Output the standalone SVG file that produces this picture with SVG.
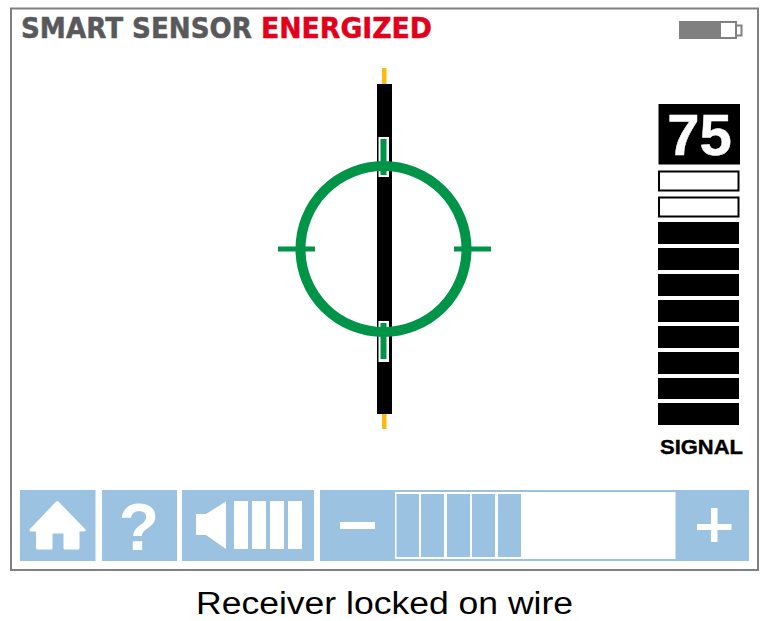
<svg xmlns="http://www.w3.org/2000/svg" width="767" height="621" viewBox="0 0 767 621">
<style>
.btn{fill:#9bc2e0}
.w{fill:#fff}
.g{fill:#009448}
.sig{fill:#000}
.sige{fill:#fff;stroke:#000;stroke-width:2}
.title{font-family:"DejaVu Sans","Open Sans",sans-serif;font-weight:700;font-size:28px;stroke-width:.5px}
</style>
<rect width="767" height="621" fill="#fff"/>
<rect id="frame" x="11" y="8.500" width="747" height="561.500" fill="#fff" stroke="#808080" stroke-width="2"/>
<g id="title"><text class="title" x="21" y="38" fill="#58595b" stroke="#58595b" textLength="231" lengthAdjust="spacingAndGlyphs">SMART SENSOR</text><text class="title" x="261" y="38" fill="#e2001a" stroke="#e2001a" textLength="171" lengthAdjust="spacingAndGlyphs">ENERGIZED</text></g>
<g id="battery"><rect x="735" y="25.500" width="6.500" height="10" fill="#fff" stroke="#808080" stroke-width="2"/><rect x="680" y="22" width="56" height="16" fill="#fff" stroke="#808080" stroke-width="2"/><rect x="679" y="21" width="42" height="18" fill="#808080"/></g>
<g id="wire"><rect x="382" y="68" width="4.500" height="361" fill="#fdb913"/><rect x="377" y="84" width="15" height="330" fill="#000"/></g>
<g id="target">
<rect class="w" x="378.500" y="137" width="10.500" height="40"/><rect class="w" x="378.500" y="321" width="10.500" height="41"/>
<circle cx="383.500" cy="249" r="83" fill="none" stroke="#009448" stroke-width="10"/>
<rect class="g" x="380.500" y="139" width="6" height="36"/><rect class="g" x="380.500" y="323" width="6" height="36"/>
<rect class="g" x="278" y="246.500" width="37" height="5"/><rect class="g" x="454" y="246.500" width="37" height="5"/></g>
<g id="signal">
<rect x="658.500" y="104" width="81.500" height="60.500" fill="#000"/>
<text x="699.500" y="155" text-anchor="middle" fill="#fff" font-family="Liberation Sans,sans-serif" font-weight="700" font-size="58" stroke="#fff" stroke-width=".5">75</text>
<rect class="sige" x="659" y="171.500" width="79.500" height="19"/><rect class="sige" x="659" y="197.500" width="79.500" height="19"/>
<rect class="sig" x="658" y="222" width="81" height="22"/><rect class="sig" x="658" y="248" width="81" height="22"/><rect class="sig" x="658" y="274" width="81" height="22"/><rect class="sig" x="658" y="300" width="81" height="22"/><rect class="sig" x="658" y="326" width="81" height="22"/><rect class="sig" x="658" y="352" width="81" height="22"/><rect class="sig" x="658" y="378" width="81" height="21"/><rect class="sig" x="658" y="403" width="81" height="22"/>
<text x="660" y="454" fill="#000" stroke="#000" stroke-width=".4" font-family="Liberation Sans,sans-serif" font-weight="700" font-size="21" textLength="83" lengthAdjust="spacingAndGlyphs">SIGNAL</text></g>
<g id="home"><rect class="btn" x="20" y="490" width="75.500" height="71"/><path class="w" stroke="#fff" stroke-width="3" stroke-linejoin="round" d="M57.300 502.500L84 530H78V548H65V532H51V548H37.500V530H31Z"/></g>
<g id="help"><rect class="btn" x="102" y="490" width="75" height="71"/><text x="139" y="549.500" text-anchor="middle" fill="#fff" font-family="Liberation Sans,sans-serif" font-weight="700" font-size="66">?</text></g>
<g id="volume"><rect class="btn" x="182" y="490" width="132" height="71"/><path class="w" d="M196 514H206L226 501.500V549L206 535H196Z"/><rect class="w" x="234" y="501" width="14" height="48"/><rect class="w" x="252" y="501" width="14" height="48"/><rect class="w" x="270" y="501" width="14" height="48"/><rect class="w" x="288" y="501" width="14" height="48"/></g>
<g id="level"><rect class="btn" x="320" y="490" width="429" height="71"/><rect class="w" x="395" y="492" width="280.500" height="67"/>
<rect class="btn" x="396.500" y="494" width="22.500" height="63"/><rect class="btn" x="421" y="494" width="23" height="63"/><rect class="btn" x="447" y="494" width="23" height="63"/><rect class="btn" x="472" y="494" width="23" height="63"/><rect class="btn" x="498" y="494" width="23" height="63"/>
<rect class="w" x="340" y="522" width="35" height="7"/><rect class="w" x="697" y="524" width="34.500" height="6"/><rect class="w" x="711" y="508" width="6.500" height="34"/></g>
<text x="196" y="614.300" fill="#000" font-family="Liberation Sans,sans-serif" font-size="31" textLength="377" lengthAdjust="spacingAndGlyphs">Receiver locked on wire</text>
<g id="connectors"/>
</svg>
